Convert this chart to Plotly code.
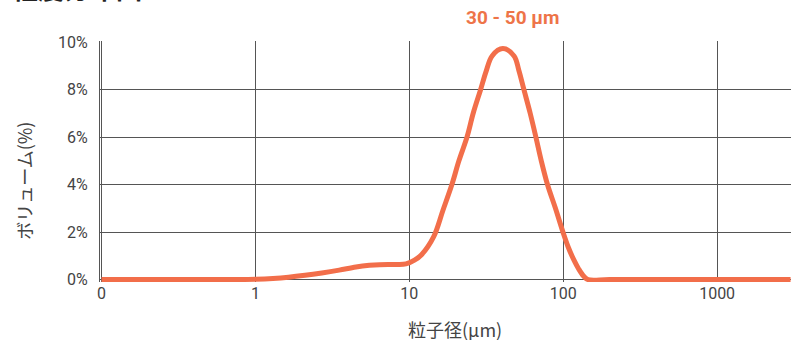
import plotly.graph_objects as go

# particle size (µm) and volume (%)
size_um = [0.1, 0.5, 1.0, 1.3, 1.64, 2.1, 2.7, 3.5, 4.5, 5.5, 6.4, 8.0, 9.5, 10.8, 12.0,
           14.4, 16.5, 18.9, 21.0, 23.7, 26.0, 29.0, 31.5, 34.5, 40.5, 47.9,
           51.5, 55.6, 61.0, 66.4, 72.0, 79.0, 89.0, 99.6, 108.0, 117.0, 126.0, 136.0,
           145.0, 200.0, 1000.0, 3000.0]
volume_pct = [0, 0, 0.02, 0.05, 0.10, 0.18, 0.28, 0.40, 0.53, 0.60, 0.63, 0.64, 0.66, 0.82,
              1.05, 1.81, 2.9, 4.0, 5.0, 6.0, 7.0, 7.98, 8.75, 9.41, 9.72, 9.41,
              8.8, 7.98, 7.0, 6.0, 5.0, 4.0, 3.0, 2.0, 1.35, 0.84, 0.45, 0.14, 0, 0, 0, 0]

x_tickvals = [0.1, 1, 10, 100, 1000]
x_ticktext = ["0", "1", "10", "100", "1000"]
y_tickvals = [0, 2, 4, 6, 8, 10]
y_ticktext = ["0%", "2%", "4%", "6%", "8%", "10%"]

peak_label = "30 - 50 μm"
chart_title = "粒度分布図"
x_title = "粒子径(μm)"
y_title = "ボリューム(%)"

line_color = "#F26E4A"
grid_color = "#555555"
text_color = "#444444"

fig = go.Figure()
fig.add_trace(go.Scatter(
    x=size_um, y=volume_pct, mode="lines",
    line=dict(color=line_color, width=5, shape="spline", smoothing=1.0),
    hoverinfo="skip", showlegend=False,
))

fig.update_layout(
    width=791, height=340,
    margin=dict(l=100, r=0, t=41, b=58),
    paper_bgcolor="white", plot_bgcolor="white",
    font=dict(family="Roboto, 'Noto Sans CJK JP'", color=text_color, size=16),
    xaxis=dict(
        type="log", range=[-1.01, 3.48],
        tickvals=x_tickvals, ticktext=x_ticktext,
        showgrid=True, gridcolor=grid_color, gridwidth=1,
        showline=False, zeroline=False, ticks="",
        tickfont=dict(family="Roboto", size=16, color=text_color),
        automargin=False,
    ),
    yaxis=dict(
        range=[-0.1, 10.04],
        tickvals=y_tickvals, ticktext=y_ticktext,
        showgrid=True, gridcolor=grid_color, gridwidth=1,
        showline=True, linecolor=grid_color, linewidth=1,
        zeroline=False, ticks="", ticklabelstandoff=8,
        tickfont=dict(family="Roboto", size=16, color=text_color),
        automargin=False,
    ),
    annotations=[
        dict(text=peak_label, xref="x", yref="paper", x=1.67, y=1.0, yanchor="bottom",
             yshift=10, showarrow=False,
             font=dict(family="Roboto", size=19, color="#EE7448", weight="bold")),
        dict(text=x_title, xref="paper", yref="paper", x=0.514, y=0, yanchor="middle",
             yshift=-47, showarrow=False,
             font=dict(family="Noto Sans CJK JP", size=18, color=text_color)),
        dict(text=y_title, xref="paper", yref="paper", x=0, y=0.42, xanchor="center",
             xshift=-76, textangle=-90, showarrow=False,
             font=dict(family="Noto Sans CJK JP", size=18, color=text_color)),
        dict(text=chart_title, xref="paper", yref="paper", x=0, y=1.0, xanchor="left",
             yanchor="bottom", xshift=-90, yshift=33, showarrow=False,
             font=dict(family="Noto Sans CJK JP", size=26, color="#222222", weight="bold")),
    ],
)

fig.write_html("out.html", config={"displayModeBar": False},
               post_script="document.body.style.margin='0';")
